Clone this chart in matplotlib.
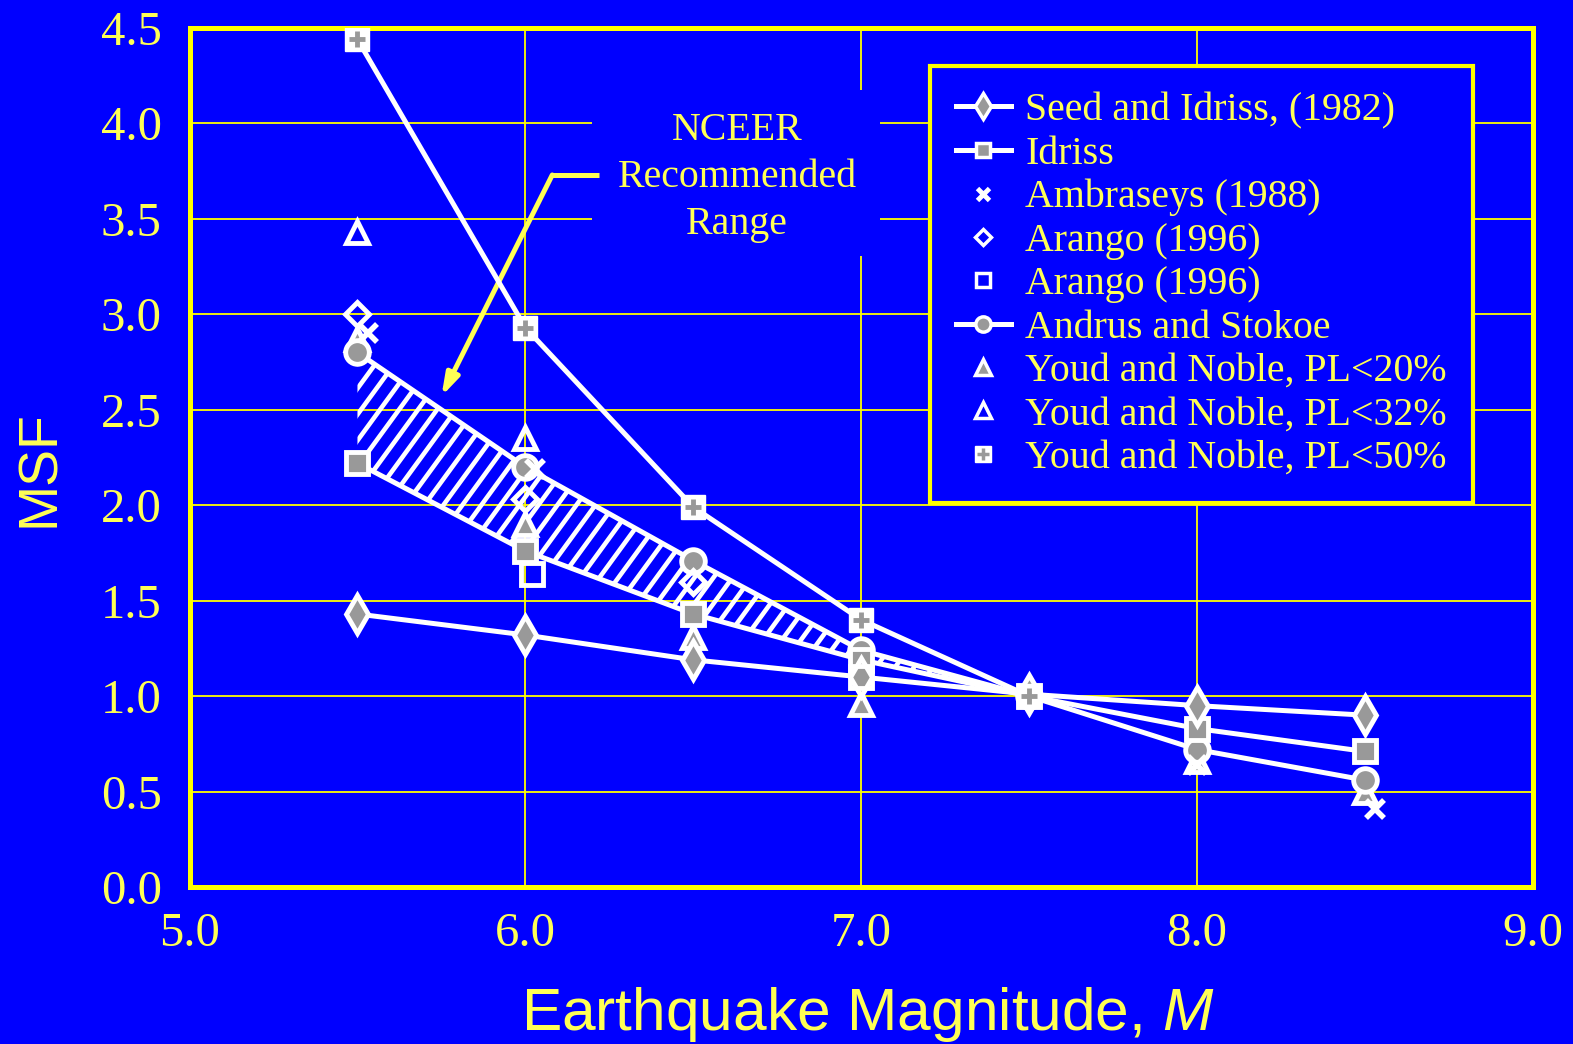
import numpy as np
import matplotlib.pyplot as plt
from matplotlib.patches import Rectangle
from matplotlib.collections import LineCollection
from matplotlib.transforms import IdentityTransform
from matplotlib.legend_handler import HandlerTuple

plt.rcParams['font.family'] = ['Liberation Serif', 'DejaVu Serif']
plt.rcParams['mathtext.fontset'] = 'custom'
plt.rcParams['mathtext.it'] = 'Liberation Sans:italic'
plt.rcParams['mathtext.rm'] = 'Liberation Sans'

# --- data ---
mag = [5.5, 6.0, 6.5, 7.0, 7.5, 8.0, 8.5]
seed_idriss = [1.43, 1.32, 1.19, 1.10, 1.01, 0.95, 0.90]
idriss = [2.22, 1.76, 1.43, 1.19, 1.00, 0.83, 0.71]
andrus_stokoe = [2.80, 2.20, 1.71, 1.24, 1.00, 0.72, 0.56]

ambraseys_m = [5.53, 6.03, 8.0, 8.53]
ambraseys = [2.90, 2.19, 0.64, 0.41]

arango1_m = [5.5, 6.0, 6.5]
arango1 = [3.00, 2.03, 1.60]
arango2_m = [6.02, 7.0]
arango2 = [1.64, 1.10]

youd20_m = [5.5, 6.0, 6.5, 7.0, 8.0, 8.5]
youd20 = [2.87, 1.90, 1.31, 0.96, 0.66, 0.50]
youd32_m = [5.5, 6.0]
youd32 = [3.43, 2.35]
youd50_m = [5.5, 6.0, 6.5, 7.0, 7.5]
youd50 = [4.44, 2.93, 1.99, 1.40, 1.00]

BLUE = '#0000FF'
YELLOW = '#FFFF00'
TXT = '#FFFF55'
GRAY = '#999999'

fig = plt.figure(figsize=(15.73, 10.44), dpi=100, facecolor=BLUE)
ax = fig.add_axes([0.1205, 0.1504, 0.854, 0.8228], facecolor=BLUE)

ax.set_xlim(5.0, 9.0)
ax.set_ylim(0.0, 4.5)
xt = np.arange(5.0, 9.01, 1.0)
yt = np.arange(0.0, 4.51, 0.5)
ax.set_xticks(xt)
ax.set_yticks(yt)
ax.set_xticklabels([f'{v:.1f}' for v in xt])
ax.set_yticklabels([f'{v:.1f}' for v in yt])
ax.tick_params(length=0, colors=TXT, labelsize=35)
ax.tick_params(axis='x', pad=18)
ax.tick_params(axis='y', pad=20)
ax.grid(True, color=YELLOW, lw=1.3)
ax.set_axisbelow(True)
for s in ax.spines.values():
    s.set_color(YELLOW)
    s.set_linewidth(3.6)

# blue box behind the NCEER note
ax.add_patch(Rectangle((6.198, 3.307), 0.857, 0.868, facecolor=BLUE,
                       edgecolor='none', zorder=1))
ax.text(6.63, 3.715, 'NCEER\nRecommended\nRange', color=TXT, fontsize=28.7,
        ha='center', va='center', linespacing=1.36, zorder=2)

# arrow to the hatched band
ax.plot([6.22, 6.08], [3.73, 3.73], color=TXT, lw=3.6, zorder=3,
        solid_capstyle='butt')
ax.annotate('', xy=(5.75, 2.57), xytext=(6.08, 3.73),
            arrowprops=dict(arrowstyle='-|>,head_length=1.3,head_width=0.4',
                            color=TXT, lw=3.6, shrinkA=0, shrinkB=0),
            zorder=3)

# recommended range band, hatched with steep lines clipped to the band
band = ax.fill_between(mag[:5], idriss[:5], andrus_stokoe[:5],
                       facecolor='none', edgecolor='none', zorder=2)
step, slope = 19.0, 1.37
segs = []
for x0 in np.arange(-900, 1600, step):
    segs.append([(x0, 0), (x0 + 1044 / slope, 1044)])
hatch = LineCollection(segs, colors='white', linewidths=3.3,
                       transform=IdentityTransform(), zorder=2)
ax.add_collection(hatch, autolim=False)
hatch.set_clip_path(band.get_paths()[0], ax.transData)

mk = dict(mec='white', mew=3.5, linestyle='none')
lw = 3.6

ax.plot(youd50_m, youd50, color='white', lw=lw, zorder=4)
ax.plot(youd20_m, youd20, marker='^', ms=16, mfc=GRAY, zorder=5, **mk)
ax.plot(youd32_m, youd32, marker='^', ms=16, mfc='none', zorder=5, **mk)

ax.plot(mag, andrus_stokoe, color='white', lw=lw, zorder=4)
ax.plot(mag, andrus_stokoe, marker='o', ms=17, mfc=GRAY, zorder=6, **mk)
ax.plot(mag, idriss, color='white', lw=lw, zorder=4)
ax.plot(mag, idriss, marker='s', ms=15.5, mfc=GRAY, zorder=6, **mk)
ax.plot(mag, seed_idriss, color='white', lw=lw, zorder=4)
ax.plot(mag, seed_idriss, marker='d', ms=19, mfc=GRAY, zorder=7, **mk)

ax.plot(arango2_m, arango2, marker='s', ms=15.5, mfc='none', zorder=7, **mk)
ax.plot(arango1_m, arango1, marker='D', ms=12, mfc='none', zorder=7, **mk)
ax.plot(youd50_m, youd50, marker='s', ms=17, mfc='white', mec='white',
        ls='none', zorder=8)
ax.plot(youd50_m, youd50, marker='+', ms=11, mec=GRAY, mew=3.5,
        ls='none', zorder=8)
ax.plot(ambraseys_m, ambraseys, marker='x', ms=13, mec='white', mew=4,
        linestyle='none', zorder=8)

# legend proxies (markers drawn smaller like the original key)
lk = dict(mec='white', mew=2.5)
p50 = (ax.plot([], [], ls='none', marker='s', ms=12, mfc='white', mec='white')[0],
       ax.plot([], [], ls='none', marker='+', ms=8, mec=GRAY, mew=2.5)[0])
h = [
    ax.plot([], [], color='white', lw=lw, marker='d', ms=13, mfc=GRAY, **lk)[0],
    ax.plot([], [], color='white', lw=lw, marker='s', ms=10, mfc=GRAY, **lk)[0],
    ax.plot([], [], ls='none', marker='x', ms=8, mec='white', mew=3.5)[0],
    ax.plot([], [], ls='none', marker='D', ms=8, mfc='none', **lk)[0],
    ax.plot([], [], ls='none', marker='s', ms=10, mfc='none', **lk)[0],
    ax.plot([], [], color='white', lw=lw, marker='o', ms=11, mfc=GRAY, **lk)[0],
    ax.plot([], [], ls='none', marker='^', ms=11, mfc=GRAY, **lk)[0],
    ax.plot([], [], ls='none', marker='^', ms=11, mfc='none', **lk)[0],
    p50,
]
labels = ['Seed and Idriss, (1982)', 'Idriss', 'Ambraseys (1988)',
          'Arango (1996)', 'Arango (1996)', 'Andrus and Stokoe',
          'Youd and Noble, PL<20%', 'Youd and Noble, PL<32%',
          'Youd and Noble, PL<50%']
leg = ax.legend(h, labels, loc='upper right', bbox_to_anchor=(0.9553, 0.9555),
                fontsize=28.7, labelcolor=TXT, frameon=True, fancybox=False,
                facecolor=BLUE, edgecolor=YELLOW, framealpha=1,
                handlelength=1.4, handletextpad=0.35, labelspacing=0.16,
                borderpad=0.65, borderaxespad=0,
                handler_map={tuple: HandlerTuple(ndivide=1, pad=0)})
leg.get_frame().set_linewidth(3)
leg.set_zorder(10)

ax.text(-0.111, 0.487, 'MSF', transform=ax.transAxes, rotation=90,
        ha='center', va='center', color=TXT, fontsize=40,
        family='Liberation Sans')
ax.text(0.505, -0.167, r'Earthquake Magnitude, $\mathit{M}$',
        transform=ax.transAxes, ha='center', va='baseline', color=TXT,
        fontsize=43.5, family='Liberation Sans')

fig.savefig('out.png', dpi=100, facecolor=BLUE)
